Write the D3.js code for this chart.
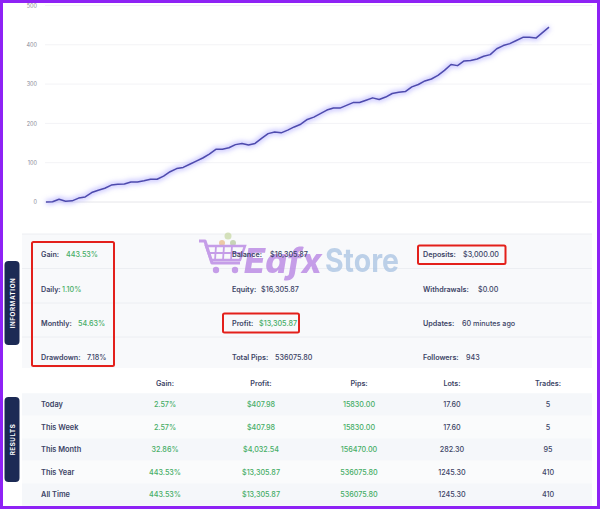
<!DOCTYPE html>
<html><head><meta charset="utf-8">
<script src="https://cdn.jsdelivr.net/npm/d3@7"></script>
<style>
html,body{margin:0;padding:0;background:#fff;}
svg text{font-family:Inter,"Open Sans",sans-serif;}
</style></head>
<body><svg id="c" width="600" height="509"></svg>
<script>
// ---------- data ----------
const yTicks = [0, 100, 200, 300, 400, 500];
const gainSeries = [0,0.5,7,2,3,10,13,24,30,35,43,45,46,51,51,54,58,58,66,77,85,88,96,104,112,122,134,134,138,146,149,145,149,162,174,178,176,183,191,198,210,
  216,225,234,239,239,246,253,253,259,265,261,267,276,279,281,293,299,308,313,322,335,350,347,359,360,364,371,375,390,398,403,411,419,419,417,431,445];

const infoCol1Labels = ["Gain:", "Daily:", "Monthly:", "Drawdown:"];
const infoCol1Values = ["443.53%", "1.10%", "54.63%", "7.18%"];
const infoCol2Labels = ["Balance:", "Equity:", "Profit:", "Total Pips:"];
const infoCol2Values = ["$16,305.87", "$16,305.87", "$13,305.87", "536075.80"];
const infoCol3Labels = ["Deposits:", "Withdrawals:", "Updates:", "Followers:"];
const infoCol3Values = ["$3,000.00", "$0.00", "60 minutes ago", "943"];

const resultHeaders = ["Gain:", "Profit:", "Pips:", "Lots:", "Trades:"];
const resultPeriods = ["Today", "This Week", "This Month", "This Year", "All Time"];
const resultGain = ["2.57%", "2.57%", "32.86%", "443.53%", "443.53%"];
const resultProfit = ["$407.98", "$407.98", "$4,032.54", "$13,305.87", "$13,305.87"];
const resultPips = ["15830.00", "15830.00", "156470.00", "536075.80", "536075.80"];
const resultLots = ["17.60", "17.60", "282.30", "1245.30", "1245.30"];
const resultTrades = ["5", "5", "95", "410", "410"];

// ---------- drawing ----------
const svg = d3.select("#c");
const NAVY = "#3c4466", GREEN = "#46ad66", RED = "#e3201b";

// chart
const x = d3.scaleLinear().domain([0, gainSeries.length - 1]).range([46, 549]);
const y = d3.scaleLinear().domain([0, 500]).range([202, 5.5]);

const defs = svg.append("defs");
defs.append("filter").attr("id", "glow").attr("x", "-10%").attr("y", "-10%").attr("width", "120%").attr("height", "120%")
  .append("feGaussianBlur").attr("stdDeviation", 2.6);

const g = svg.append("g");
g.selectAll("line.grid").data(yTicks.filter(d => d > 0)).join("line")
  .attr("x1", 45).attr("x2", 592).attr("y1", d => y(d)).attr("y2", d => y(d))
  .attr("stroke", "#f3f3f6").attr("stroke-width", 1);
g.append("line").attr("x1", 45).attr("x2", 592).attr("y1", y(0)).attr("y2", y(0))
  .attr("stroke", "#e6e6ea").attr("stroke-width", 1);
const yAxis = d3.axisLeft(y).tickValues(yTicks).tickSize(0).tickPadding(0);
const ya = g.append("g").attr("transform", "translate(37,0)").call(yAxis);
ya.select(".domain").remove();
ya.selectAll("text").attr("fill", "#8a8a96").attr("font-size", 5.5).attr("font-family", "Inter,sans-serif");

const line = d3.line().x((d, i) => x(i)).y(d => y(d));
g.append("path").datum(gainSeries).attr("d", line).attr("fill", "none")
  .attr("stroke", "#9a96ff").attr("stroke-opacity", 0.55).attr("stroke-width", 5).attr("filter", "url(#glow)");
g.append("path").datum(gainSeries).attr("d", line).attr("fill", "none")
  .attr("stroke", "#4d4aad").attr("stroke-width", 1.5).attr("stroke-linejoin", "round");

// info panel
const infoRowsY = [254.5, 289, 323, 357];
svg.append("rect").attr("x", 22).attr("y", 234).attr("width", 570).attr("height", 134).attr("fill", "#f8f9fb");
svg.append("line").attr("x1", 22).attr("x2", 592).attr("y1", 234).attr("y2", 234).attr("stroke", "#eceef2");
[268.5, 303, 337].forEach(v => svg.append("line").attr("x1", 22).attr("x2", 592).attr("y1", v).attr("y2", v).attr("stroke", "#eceef2"));

// watermark
const wm = svg.append("g").attr("opacity", 0.75);
wm.append("circle").attr("cx", 228).attr("cy", 236).attr("r", 3.5).attr("fill", "#c9d9a6");
wm.append("circle").attr("cx", 222).attr("cy", 243).attr("r", 3).attr("fill", "#e8b98a");
wm.append("circle").attr("cx", 233).attr("cy", 243).attr("r", 3).attr("fill", "#b7c9a0");
wm.append("path").attr("d", "M199,241 L205,241 L212,263 L240,263").attr("fill", "none").attr("stroke", "#b57fe2").attr("stroke-width", 3.2).attr("stroke-linejoin", "round");
wm.append("path").attr("d", "M206,246 L245,246 L240,260 L211,260 Z").attr("fill", "none").attr("stroke", "#b57fe2").attr("stroke-width", 2.4);
[216, 224, 232].forEach(v => wm.append("line").attr("x1", v).attr("x2", v - 1).attr("y1", 246).attr("y2", 260).attr("stroke", "#b57fe2").attr("stroke-width", 1.8));
wm.append("line").attr("x1", 208).attr("x2", 243).attr("y1", 253).attr("y2", 253).attr("stroke", "#b57fe2").attr("stroke-width", 1.8);
wm.append("circle").attr("cx", 216).attr("cy", 270).attr("r", 3.2).attr("fill", "#b57fe2");
wm.append("circle").attr("cx", 235).attr("cy", 270).attr("r", 3.2).attr("fill", "#b57fe2");
wm.append("text").attr("x", 244).attr("y", 273).attr("font-size", 34).attr("font-weight", 800).attr("font-style", "italic")
  .attr("textLength", 78).attr("lengthAdjust", "spacingAndGlyphs").attr("fill", "#b57fe2").text("Eafx");
wm.append("text").attr("x", 325).attr("y", 272).attr("font-size", 32).attr("font-weight", 700)
  .attr("textLength", 74).attr("lengthAdjust", "spacingAndGlyphs").attr("fill", "#a9c3e2").text("Store");

function pair(lx, vx, yy, label, value, vcol) {
  svg.append("text").attr("x", lx).attr("y", yy).attr("dy", "0.35em").attr("font-size", 7.2).attr("font-weight", 600).attr("fill", NAVY).text(label);
  svg.append("text").attr("x", vx).attr("y", yy).attr("dy", "0.35em").attr("font-size", 7.2).attr("font-weight", 500).attr("fill", vcol).text(value);
}
const col1vx = [66, 62, 78, 87];
infoRowsY.forEach((yy, i) => pair(41, col1vx[i], yy, infoCol1Labels[i], infoCol1Values[i], i < 3 ? GREEN : NAVY));
const col2vx = [270, 261, 259, 275];
infoRowsY.forEach((yy, i) => pair(232, col2vx[i], yy, infoCol2Labels[i], infoCol2Values[i], i === 2 ? GREEN : NAVY));
const col3vx = [463, 478, 462, 466];
infoRowsY.forEach((yy, i) => pair(423, col3vx[i], yy, infoCol3Labels[i], infoCol3Values[i], NAVY));

// red highlight boxes
[[32, 242, 82, 124], [223, 313.5, 76, 19], [418, 245.5, 87.5, 18.5]].forEach(b =>
  svg.append("rect").attr("x", b[0]).attr("y", b[1]).attr("width", b[2]).attr("height", b[3]).attr("rx", 1.5)
    .attr("fill", "none").attr("stroke", RED).attr("stroke-width", 2));

// side tabs
function tab(y0, h, label) {
  svg.append("rect").attr("x", 4.5).attr("y", y0).attr("width", 15).attr("height", h).attr("rx", 4).attr("fill", "#1c2a55");
  svg.append("text").attr("transform", `translate(12.5,${y0 + h / 2}) rotate(-90)`).attr("text-anchor", "middle").attr("dy", "0.35em")
    .attr("font-size", 6.2).attr("font-weight", 700).attr("letter-spacing", 0.6).attr("fill", "#fff").text(label);
}
tab(261, 84, "INFORMATION");
tab(397, 85, "RESULTS");

// results table
const colX = [165, 261, 359, 452, 548];
svg.append("rect").attr("x", 22).attr("y", 371).attr("width", 570).attr("height", 24).attr("fill", "#ffffff");
const rowY = [404.5, 427, 449.5, 472, 494.5];
rowY.forEach((yy, i) => svg.append("rect").attr("x", 22).attr("y", yy - 11.25).attr("width", 570).attr("height", 22.5)
  .attr("fill", i % 2 === 0 ? "#f5f7fa" : "#fafbfc"));
resultHeaders.forEach((h, j) => svg.append("text").attr("x", colX[j]).attr("y", 383).attr("dy", "0.35em").attr("text-anchor", "middle")
  .attr("font-size", 7.2).attr("font-weight", 600).attr("fill", NAVY).text(h));
const cols = [resultGain, resultProfit, resultPips, resultLots, resultTrades];
const colColor = [GREEN, GREEN, GREEN, NAVY, NAVY];
resultPeriods.forEach((p, i) => {
  svg.append("text").attr("x", 41).attr("y", rowY[i]).attr("dy", "0.35em").attr("font-size", 7.4).attr("font-weight", 600).attr("fill", NAVY).text(p);
  cols.forEach((c, j) => svg.append("text").attr("x", colX[j]).attr("y", rowY[i]).attr("dy", "0.35em").attr("text-anchor", "middle")
    .attr("font-size", 7.2).attr("font-weight", 500).attr("fill", colColor[j]).text(c[i]));
});

// purple frame
svg.append("rect").attr("x", 1.5).attr("y", 1.5).attr("width", 597).attr("height", 506).attr("fill", "none")
  .attr("stroke", "#8e22f5").attr("stroke-width", 3);
</script></body></html>
